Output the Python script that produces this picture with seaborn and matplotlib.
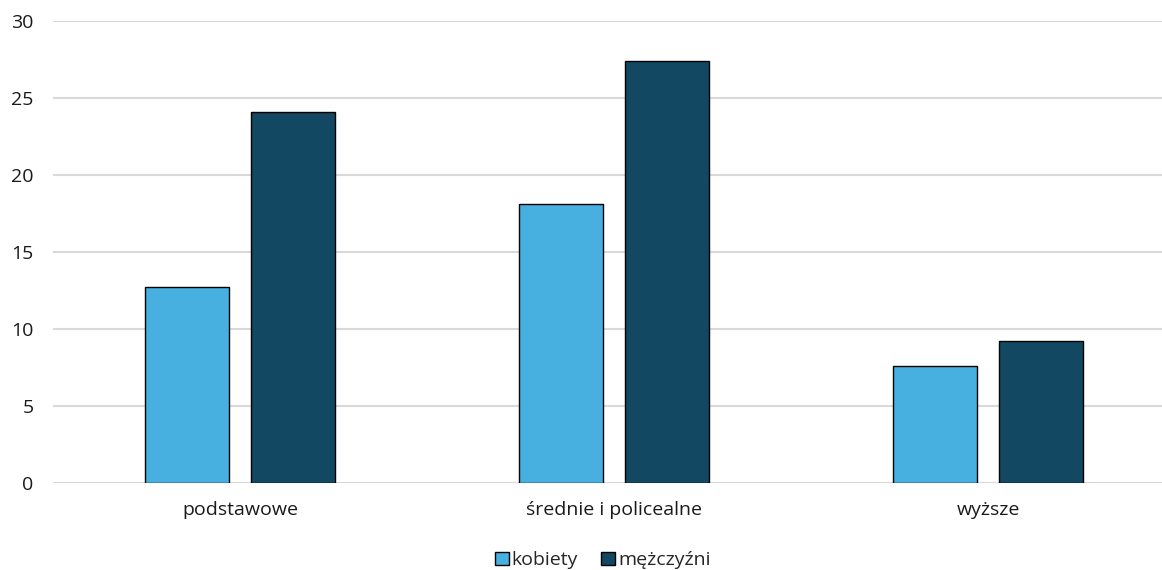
import matplotlib
matplotlib.use("Agg")
import matplotlib.pyplot as plt
import seaborn as sns
import pandas as pd

categories = ["podstawowe", "średnie i policealne", "wyższe"]
kobiety = [12.7, 18.1, 7.6]
mezczyzni = [24.1, 27.4, 9.2]
series_names = ["kobiety", "mężczyźni"]
colors = ["#47B0E0", "#124862"]

df = pd.DataFrame({
    "kategoria": categories * 2,
    "wartosc": kobiety + mezczyzni,
    "plec": [series_names[0]] * 3 + [series_names[1]] * 3,
})

sns.set_theme(style="white")
plt.rcParams["font.family"] = ["Open Sans", "DejaVu Sans"]

fig = plt.figure(figsize=(11.62, 5.70), dpi=100)
ax = fig.add_axes([0.0456, 0.1526, 0.9656, 0.8104])

sns.barplot(data=df, x="kategoria", y="wartosc", hue="plec", order=categories,
            hue_order=series_names, palette=colors, saturation=1, width=0.567, gap=0.2075,
            edgecolor="black", linewidth=1.0, ax=ax, legend=True)

ax.set_ylim(0, 30)
ax.set_yticks([0, 5, 10, 15, 20, 25, 30])
ax.set_xlim(-0.5, 2.5)
ax.yaxis.grid(True, color="#d9d9d9", linewidth=1.5)
ax.set_axisbelow(True)
for s in ax.spines.values():
    s.set_visible(False)
ax.set_xlabel("")
ax.set_ylabel("")
ax.tick_params(axis="both", length=0, labelsize=14, colors="#1a1a1a")
ax.tick_params(axis="y", pad=14)
ax.tick_params(axis="x", pad=13)

ax.legend(loc="center", bbox_to_anchor=(0.49, -0.167), ncol=2, frameon=False,
          fontsize=14, handlelength=0.7, handleheight=0.7, handletextpad=0.15,
          columnspacing=1.2)

fig.savefig("out.png", dpi=100)
